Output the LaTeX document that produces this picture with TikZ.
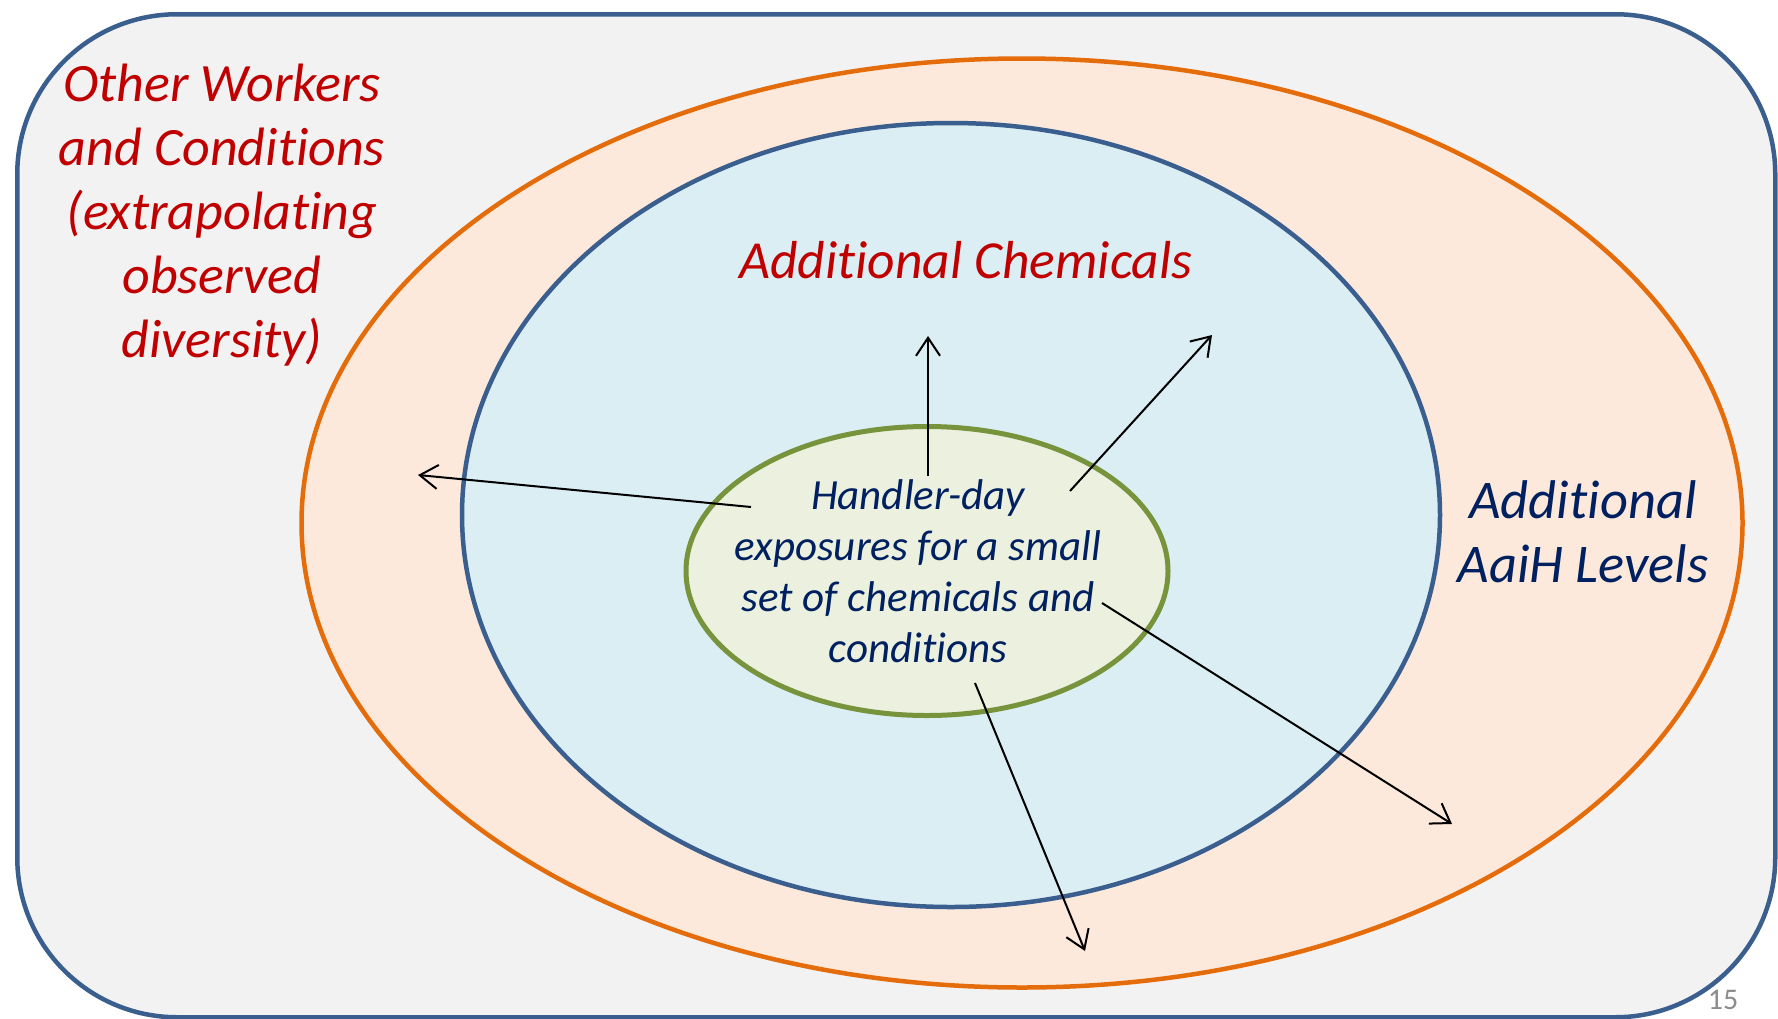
\documentclass[tikz,border=0pt]{standalone}
\usepackage{fontspec}
\setmainfont{Carlito}[Ligatures=NoCommon]
\usetikzlibrary{shapes.geometric,arrows.meta}
\definecolor{frameblue}{HTML}{3A5F8E}
\definecolor{bgfill}{HTML}{F2F2F2}
\definecolor{orangeline}{HTML}{E46C0A}
\definecolor{orangefill}{HTML}{FCE9DB}
\definecolor{bluefill}{HTML}{DBEEF4}
\definecolor{greenline}{HTML}{77933C}
\definecolor{greenfill}{HTML}{EBF0DF}
\definecolor{darkred}{HTML}{C00000}
\definecolor{navy}{HTML}{002060}
\definecolor{pagegray}{HTML}{8C8C8C}
\tikzset{
  ring/.style={ellipse, inner sep=0pt, outer sep=0pt, line width=4.5pt},
  redtext/.style={text=darkred, align=center, font=\itshape\fontsize{54}{64}\selectfont, inner sep=0pt},
  navytext/.style={text=navy, align=center, inner sep=0pt},
  spoke/.style={line width=2pt, -{Straight Barb[length=18pt,width=24pt,line width=2pt]}}
}
\begin{document}
\begin{tikzpicture}[x=1pt,y=-1pt]
\useasboundingbox (0,0) rectangle (1778,1018);
\node[draw=frameblue, fill=bgfill, line width=4.5pt, rounded corners=160pt,
      minimum width=1758pt, minimum height=1003pt, inner sep=0pt, anchor=north west]
      (frame) at (15,12) {};
\node[ring, draw=orangeline, fill=orangefill, minimum width=1441pt, minimum height=929pt] (orange) at (1022,523) {};
\node[ring, draw=frameblue, fill=bluefill, minimum width=978pt, minimum height=784pt] (blue) at (951,515) {};
\node[ring, draw=greenline, fill=greenfill, line width=5pt, minimum width=482pt, minimum height=289pt] (green) at (927,571) {};

\node[redtext, anchor=base] (workers) at (222,357) {Other Workers\\and Conditions\\(extrapolating\\observed\\diversity)};
\node[redtext, anchor=base, font=\itshape\fontsize{53.5}{64}\selectfont] (chem) at (966,278) {Additional Chemicals};
\node[navytext, anchor=base, font=\itshape\fontsize{54.5}{64}\selectfont] (aaih) at (1583,582) {Additional\\AaiH Levels};
\node[navytext, anchor=base, font=\itshape\fontsize{43}{51}\selectfont] (core) at (918,662) {Handler-day\\exposures for a small\\set of chemicals and\\conditions};
\node[text=pagegray, font=\fontsize{30}{36}\selectfont, inner sep=0pt] (page) at (1723,1000) {15};

\coordinate (s1) at (751,507);  \coordinate (t1) at (418,475);
\coordinate (s2) at (928,476);  \coordinate (t2) at (928,336);
\coordinate (s3) at (1070,491); \coordinate (t3) at (1212,335);
\coordinate (s4) at (1102,603); \coordinate (t4) at (1452,824);
\coordinate (s5) at (975,683);  \coordinate (t5) at (1085,951);
\draw[spoke] (s1) -- (t1);
\draw[spoke] (s2) -- (t2);
\draw[spoke] (s3) -- (t3);
\draw[spoke] (s4) -- (t4);
\draw[spoke] (s5) -- (t5);
\end{tikzpicture}
\end{document}
